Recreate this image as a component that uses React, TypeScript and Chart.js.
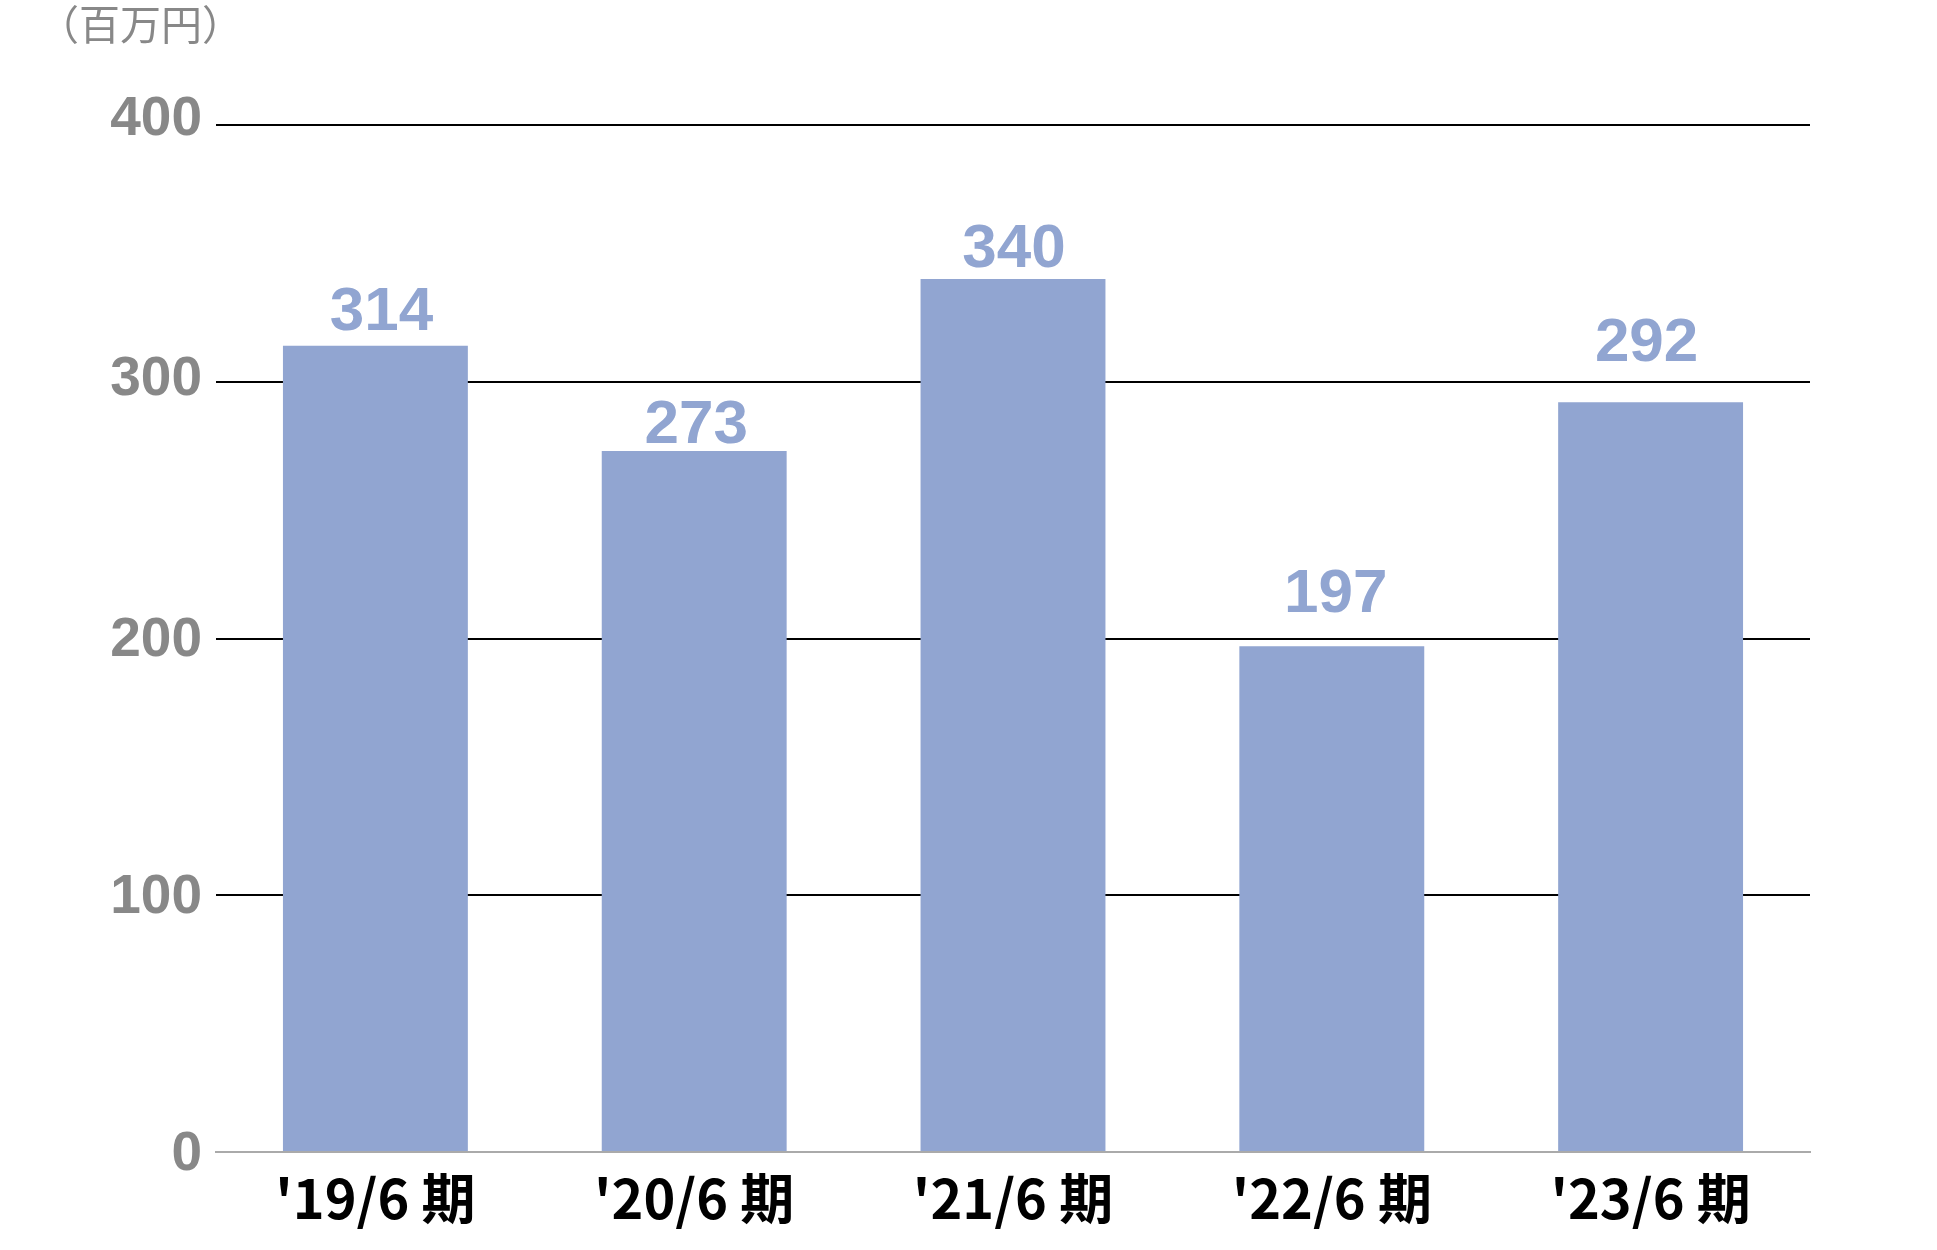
import React, { useEffect, useRef } from "react";
import { Chart, registerables } from "chart.js";

Chart.register(...registerables);

const categories = ["'19/6 期", "'20/6 期", "'21/6 期", "'22/6 期", "'23/6 期"];
const values = [314, 273, 340, 197, 292];
const yTicks = [0, 100, 200, 300, 400];
const unitLabel = "（百万円）";

const CJK = "'Noto Sans CJK JP', 'Noto Sans', sans-serif";
const NUM = "'Liberation Sans', Arial, 'Noto Sans CJK JP', sans-serif";
const BAR = "#91a5d1";
// label placement tweaks (gap above bar top, horizontal nudge), per bar
const LABEL_GAP = [16, 8, 12, 34, 41];
const LABEL_DX = [6, 2, 1, 4, -4];
// baseline offset of y tick labels relative to their gridline
const TICK_BASE = [18, 18, 17, 13, 10];

export default function App() {
  const ref = useRef<HTMLCanvasElement | null>(null);
  useEffect(() => {
    document.body.style.margin = "0";
    const canvas = ref.current!;
    const labelPlugin = {
      id: "valueLabels",
      afterDatasetsDraw(chart: any) {
        const ctx = chart.ctx;
        const meta = chart.getDatasetMeta(0);
        ctx.save();
        ctx.fillStyle = BAR;
        ctx.font = `bold 62px ${NUM}`;
        ctx.textAlign = "center";
        ctx.textBaseline = "alphabetic";
        meta.data.forEach((el: any, i: number) => {
          ctx.fillText(String(values[i]), el.x + LABEL_DX[i], el.y - LABEL_GAP[i]);
        });
        ctx.restore();

        const ys = chart.scales.y;
        ctx.save();
        ctx.fillStyle = "#888888";
        ctx.font = `bold 55px ${NUM}`;
        ctx.textAlign = "right";
        ctx.textBaseline = "alphabetic";
        yTicks.forEach((v, i) => {
          ctx.fillText(String(v), ys.right - 14, ys.getPixelForValue(v) + TICK_BASE[i]);
        });
        ctx.restore();

        ctx.save();
        ctx.fillStyle = "#888888";
        ctx.font = `41px ${CJK}`;
        ctx.textAlign = "left";
        ctx.textBaseline = "alphabetic";
        ctx.fillText(unitLabel, 38, 40);
        ctx.restore();
      },
    };
    const chart = new Chart(canvas, {
      type: "bar",
      data: {
        labels: categories,
        datasets: [
          {
            data: values,
            backgroundColor: BAR,
            borderWidth: 0,
            categoryPercentage: 0.58,
            barPercentage: 1,
          },
        ],
      },
      options: {
        animation: false,
        responsive: false,
        maintainAspectRatio: false,
        layout: { padding: { left: 0, right: 127, top: 125, bottom: 0 } },
        plugins: { legend: { display: false }, tooltip: { enabled: false }, title: { display: false } },
        scales: {
          x: {
            grid: { display: false, drawTicks: false },
            border: { display: true, color: "#aaaaaa", width: 2 },
            ticks: {
              color: "#000000",
              font: { family: CJK, size: 54, weight: "bold" },
              padding: 14,
              maxRotation: 0,
              autoSkip: false,
            },
            afterFit: (s: any) => {
              s.height = 98;
            },
          },
          y: {
            min: 0,
            max: 400,
            afterBuildTicks: (s: any) => {
              s.ticks = yTicks.map((v) => ({ value: v }));
            },
            grid: {
              color: (c: any) => (c.tick && c.tick.value === 0 ? "rgba(0,0,0,0)" : "#000000"),
              lineWidth: 2,
              drawTicks: false,
            },
            border: { display: false },
            ticks: { display: false },
            afterFit: (s: any) => {
              s.width = 216;
            },
          },
        },
      },
      plugins: [labelPlugin],
    });
    return () => chart.destroy();
  }, []);
  return <canvas ref={ref} width={1937} height={1250} style={{ display: "block", width: 1937, height: 1250 }} />;
}
